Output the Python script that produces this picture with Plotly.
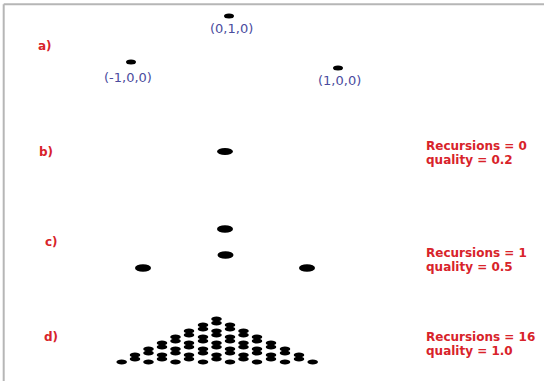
import plotly.graph_objects as go

W, H = 544, 381

# ---------------- data (canvas units, y grows downward) ----------------
# a) the three corner points of the base triangle (projected view)
A_LABELS = ["(-1,0,0)", "(0,1,0)", "(1,0,0)"]
A_X = [131, 229, 338]
A_Y = [62, 16, 68]

# b) zero recursions: a single point
B_X = [225]
B_Y = [151.5]

# c) one recursion: four points
C_X = [225, 225.5, 143, 307]
C_Y = [229, 255, 268, 268]

# d) sixteen recursions: pyramid, listed column by column
D_COL_X = [121.7, 135, 148.5, 162, 175.5, 189, 203, 216.5,
           230, 243.5, 257, 271, 285, 299, 312.7]
D_COL_Y = [
    [362],
    [355, 359],
    [362, 349, 353],
    [355, 359, 343, 347],
    [362, 349, 353, 337, 341],
    [355, 359, 343, 347, 331, 335],
    [362, 349, 353, 337, 341, 325, 329],
    [355, 359, 343, 347, 331, 335, 319, 323],
    [362, 349, 353, 337, 341, 325, 329],
    [355, 359, 343, 347, 331, 335],
    [362, 349, 353, 337, 341],
    [355, 359, 343, 347],
    [362, 349, 353],
    [355, 359],
    [362],
]

PANEL_LABELS = ["a)", "b)", "c)", "d)"]
PANEL_LABEL_X = [36, 37, 43, 42]
PANEL_LABEL_Y = [46, 152, 242, 337]

RESULT_LINES = [["Recursions = 0", "quality = 0.2"],
                ["Recursions = 1", "quality = 0.5"],
                ["Recursions = 16", "quality = 1.0"]]
RESULT_X = 424
RESULT_Y = [146, 253, 337]

# ---------------- styles ----------------
RED = "#d8232a"
BLUE = "#4b4c9e"
FONT = "DejaVu Sans"

D_X, D_Y = [], []
for cx, ys in zip(D_COL_X, D_COL_Y):
    for y in ys:
        D_X.append(cx)
        D_Y.append(y)

fig = go.Figure()
for xs, ys in [(A_X, A_Y), (B_X, B_Y), (C_X, C_Y), (D_X, D_Y)]:
    fig.add_trace(go.Scatter(x=xs, y=ys, mode="markers",
                             marker=dict(color="black", size=4, symbol="circle"),
                             hoverinfo="skip", showlegend=False))

shapes = []


def ellipses(xs, ys, w, h):
    for x, y in zip(xs, ys):
        shapes.append(dict(type="circle", xref="x", yref="y",
                           x0=x - w / 2, x1=x + w / 2, y0=y - h / 2, y1=y + h / 2,
                           fillcolor="black", line=dict(width=0)))


ellipses(A_X, A_Y, 10, 5)
ellipses(B_X, B_Y, 16, 7)
ellipses(C_X, C_Y, 16, 7.5)
ellipses(D_X, D_Y, 10.5, 5.2)

# frame (top and left edges)
shapes.append(dict(type="line", xref="paper", yref="paper",
                   x0=3.7 / W, x1=1, y0=1 - 4.3 / H, y1=1 - 4.3 / H,
                   line=dict(color="#b6b6b6", width=2)))
shapes.append(dict(type="line", xref="paper", yref="paper",
                   x0=3.7 / W, x1=3.7 / W, y0=0, y1=1 - 4.3 / H,
                   line=dict(color="#b6b6b6", width=2)))

annotations = []
A_LABEL_SHIFT = [(-3, -15), (2, -12), (1, -12)]
for lab, x, y, (dx, dy) in zip(A_LABELS, A_X, A_Y, A_LABEL_SHIFT):
    annotations.append(dict(x=x, y=y, xref="x", yref="y", text=lab,
                            showarrow=False, xshift=dx, yshift=dy,
                            xanchor="center", yanchor="middle",
                            font=dict(family=FONT, size=13, color=BLUE)))

for lab, x, y in zip(PANEL_LABELS, PANEL_LABEL_X, PANEL_LABEL_Y):
    annotations.append(dict(x=x, y=y, xref="x", yref="y", text="<b>" + lab + "</b>",
                            showarrow=False, xanchor="left", yanchor="middle",
                            font=dict(family=FONT, size=12, color=RED)))

for lines, y in zip(RESULT_LINES, RESULT_Y):
    for i, line in enumerate(lines):
        annotations.append(dict(x=RESULT_X, y=y, xref="x", yref="y",
                                text="<b>" + line + "</b>", showarrow=False,
                                yshift=-13.5 * i,
                                xanchor="left", yanchor="middle",
                                font=dict(family=FONT, size=12, color=RED)))

fig.update_layout(
    width=W, height=H,
    margin=dict(l=0, r=0, t=0, b=0),
    paper_bgcolor="white", plot_bgcolor="white",
    xaxis=dict(range=[0, W], visible=False, fixedrange=True),
    yaxis=dict(range=[H, 0], visible=False, fixedrange=True),
    shapes=shapes, annotations=annotations,
)

fig.write_html("out.html",
               config={"displayModeBar": False},
               post_script="document.body.style.margin='0';"
                           "document.body.style.overflow='hidden';")
